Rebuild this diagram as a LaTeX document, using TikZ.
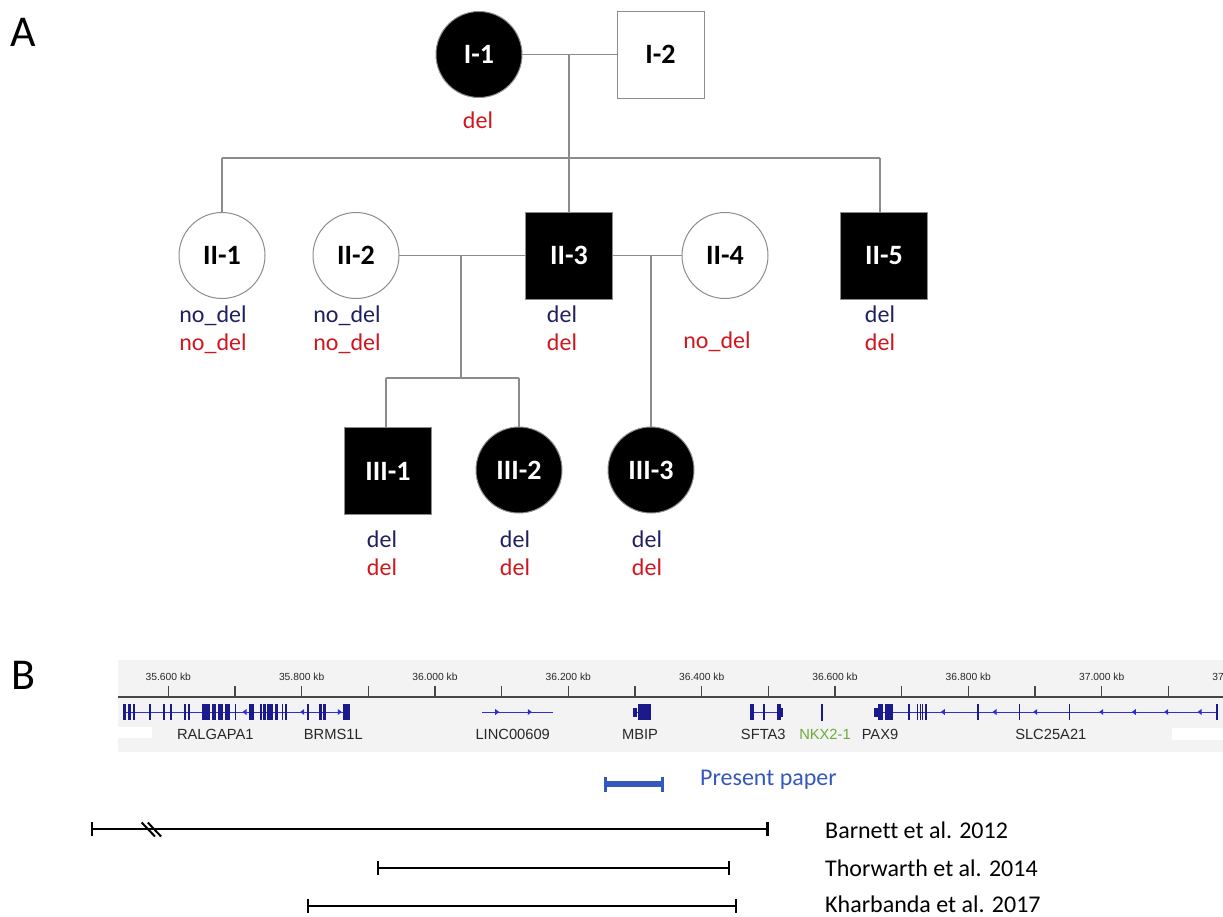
\documentclass[tikz,border=0pt]{standalone}
\usepackage{fontspec}
\setmainfont{Carlito}[Ligatures=NoCommon]
\newfontfamily\trackfont{Liberation Sans}
\usetikzlibrary{arrows.meta}

\definecolor{pedline}{RGB}{140,140,140}
\definecolor{navy}{RGB}{32,32,96}
\definecolor{delred}{RGB}{208,22,30}
\definecolor{panelbg}{RGB}{243,243,243}
\definecolor{rulerc}{RGB}{70,70,70}
\definecolor{exonc}{RGB}{26,26,140}
\definecolor{intronc}{RGB}{45,45,215}
\definecolor{genelbl}{RGB}{40,40,40}
\definecolor{nkxgreen}{RGB}{105,172,60}
\definecolor{presentblue}{RGB}{52,88,190}

\newcommand{\pedfont}{\fontsize{28}{30}\selectfont\bfseries}
\newcommand{\gtfont}{\fontsize{24}{26}\selectfont}
\newcommand{\panelfont}{\fontsize{44}{46}\selectfont}
\newcommand{\rulerfont}{\trackfont\fontsize{10.3}{12}\selectfont}
\newcommand{\genefont}{\trackfont\fontsize{14.7}{16}\selectfont}

% exon block, UTR block and strand chevrons on the gene track
\newcommand{\exon}[2]{\fill[exonc] (#1,704) rectangle (#2,720);}
\newcommand{\utr}[2]{\fill[exonc] (#1,707.5) rectangle (#2,716.5);}
\newcommand{\minusmark}[1]{\fill[intronc] (#1-2.5,712) -- (#1+1.5,709) -- (#1+1.5,715) -- cycle;}
\newcommand{\plusmark}[1]{\fill[intronc] (#1+2.5,712) -- (#1-1.5,709) -- (#1-1.5,715) -- cycle;}

\tikzset{
  female/.style={circle, draw=pedline, line width=1pt, minimum size=86pt,
    inner sep=0pt, outer sep=0pt, font=\pedfont},
  male/.style={rectangle, draw=pedline, line width=1pt, minimum size=87pt,
    inner sep=0pt, outer sep=0pt, font=\pedfont},
  affected/.style={fill=black, text=white},
  unaffected/.style={fill=white, text=black},
  ped/.style={draw=pedline, line width=1.2pt},
  gt/.style={font=\gtfont, anchor=base, inner sep=0pt},
  gtnavy/.style={gt, text=navy},
  gtred/.style={gt, text=delred},
  panellbl/.style={font=\panelfont, inner sep=0pt},
  rulerlbl/.style={font=\rulerfont, text=genelbl, inner sep=0pt},
  genelbl/.style={font=\genefont, text=genelbl, inner sep=0pt},
  refbar/.style={line width=2.2pt, black, {Bar[width=14pt]}-{Bar[width=14pt]}},
  presentbar/.style={line width=5.5pt, presentblue,
    {Bar[width=15pt,line width=3pt]}-{Bar[width=15pt,line width=3pt]}},
  reflbl/.style={font=\gtfont, anchor=west, inner sep=0pt}
}

\begin{document}
\begin{tikzpicture}[x=1pt, y=-1pt]
\useasboundingbox (0,0) rectangle (1223,916);

% ---------------- panel A: pedigree ----------------
\node[panellbl] (labA) at (23.5,32.5) {A};

% generation I
\node[female, affected]   (I1) at (479,54.5) {I-1};
\node[male, unaffected]   (I2) at (660.5,54.5) {I-2};
\draw[ped] (I1) -- (I2);
\coordinate (m1) at (569,54.5);
\coordinate (s1) at (569,158);
\coordinate (s1L) at (222,158);
\coordinate (s1R) at (880,158);
\draw[ped] (m1) -- (s1);
\draw[ped] (s1L) -- (s1R);

% generation II
\node[female, unaffected] (II1) at (222,255.5) {II-1};
\node[female, unaffected] (II2) at (356,255.5) {II-2};
\node[male, affected]     (II3) at (569,255.5) {II-3};
\node[female, unaffected] (II4) at (725,255.5) {II-4};
\node[male, affected]     (II5) at (884,255.5) {II-5};
\draw[ped] (s1L) -- (II1);
\draw[ped] (s1) -- (II3);
\draw[ped] (s1R) -- (s1R |- II5.north);

\draw[ped] (II2) -- (II3);
\draw[ped] (II3) -- (II4);
\coordinate (m2) at (461,255.5);
\coordinate (s2) at (461,378);
\coordinate (s2L) at (386,378);
\coordinate (s2R) at (519,378);
\coordinate (m3) at (651,255.5);

% generation III
\node[male, affected]     (III1) at (388,471) {III-1};
\node[female, affected]   (III2) at (519,470) {III-2};
\node[female, affected]   (III3) at (651,470) {III-3};
\draw[ped] (m2) -- (s2);
\draw[ped] (s2L) -- (s2R);
\draw[ped] (s2L) -- (s2L |- III1.north);
\draw[ped] (s2R) -- (III2);
\draw[ped] (m3) -- (III3);

% genotype labels
\node[gtred]  (gI1)   at (478,128.5) {del};
\node[gtnavy] (gII1a) at (213,322.7) {no\_del};
\node[gtred]  (gII1b) at (213,350.7) {no\_del};
\node[gtnavy] (gII2a) at (347,322.7) {no\_del};
\node[gtred]  (gII2b) at (347,350.7) {no\_del};
\node[gtnavy] (gII3a) at (562,322.7) {del};
\node[gtred]  (gII3b) at (562,350.7) {del};
\node[gtred]  (gII4b) at (717,348) {no\_del};
\node[gtnavy] (gII5a) at (880,322.7) {del};
\node[gtred]  (gII5b) at (880,350.7) {del};
\node[gtnavy] (gIII1a) at (382,547) {del};
\node[gtred]  (gIII1b) at (382,575) {del};
\node[gtnavy] (gIII2a) at (515,547) {del};
\node[gtred]  (gIII2b) at (515,575) {del};
\node[gtnavy] (gIII3a) at (647,547) {del};
\node[gtred]  (gIII3b) at (647,575) {del};

% ---------------- panel B: genomic region ----------------
\node[panellbl] (labB) at (23.7,675) {B};

\begin{scope}
\clip (118,660) rectangle (1223,752);
\fill[panelbg] (118,660) rectangle (1223,752);
% ruler
\draw[rulerc, line width=1.3pt] (118,697) -- (1223,697);
\foreach \k in {0,...,15}
  {\draw[rulerc, line width=1.2pt] ({168.3+66.67*\k},686) -- ({168.3+66.67*\k},697);}
\foreach \k/\t in {0/35.600, 2/35.800, 4/36.000, 6/36.200, 8/36.400,
                   10/36.600, 12/36.800, 14/37.000, 16/37.200}
  {\node[rulerlbl] (tick\k) at ({168.3+66.67*\k},677) {\t\ kb};}

% intron lines
\draw[intronc, line width=1pt] (123.3,712) -- (350,712);
\draw[intronc, line width=1pt] (481.7,712) -- (553.3,712);
\draw[intronc, line width=1pt] (632.7,712) -- (650,712);
\draw[intronc, line width=1pt] (750,712) -- (783.3,712);
\draw[intronc, line width=1pt] (874,712) -- (1217.7,712);

% RALGAPA1 and BRMS1L
\foreach \a/\b in {123.3/126, 128.3/130.7, 132.7/134.7, 149.3/151.3, 163.3/165,
  170/172, 184/186, 188.3/190, 202.3/210, 211.7/216, 217.7/222.7, 225/230,
  235/236.2, 249.3/254, 260/261.7, 263.3/266, 267.3/273.3, 275/277.7,
  281.7/283.3, 285/286.7, 307.3/309, 319.3/321.7, 323.3/326, 343.3/350}
  {\exon{\a}{\b}}
\minusmark{245}
\minusmark{302.7}
\plusmark{339.3}

% LINC00609
\plusmark{496.7}
\plusmark{529.3}

% MBIP
\utr{632.7}{637.3}
\exon{638.3}{650.5}

% SFTA3
\exon{750}{754}
\exon{763.3}{764.8}
\exon{776.7}{781}
\utr{781}{783.3}

% NKX2-1
\fill[exonc] (820.7,703.5) rectangle (822.9,721);

% PAX9 and SLC25A21
\utr{874}{878.3}
\exon{878.3}{883.3}
\exon{885}{892.5}
\exon{907.7}{910}
\exon{916.7}{918.3}
\exon{919.6}{920.8}
\exon{922}{923.3}
\exon{924.6}{926.7}
\foreach \a/\b in {976.6/978.6, 1018.6/1020.2, 1068.6/1070.2, 1216/1218}
  {\exon{\a}{\b}}
\foreach \x in {943.3, 995, 1035.7, 1101.7, 1134.3, 1166.7, 1200}
  {\minusmark{\x}}

% gene names
\node[genelbl] (gRAL)  at (215.3,734.3) {RALGAPA1};
\node[genelbl] (gBRM)  at (333.3,734.3) {BRMS1L};
\node[genelbl] (gLINC) at (512.7,734.3) {LINC00609};
\node[genelbl] (gMBIP) at (640,734.3) {MBIP};
\node[genelbl] (gSFT)  at (763.3,734.3) {SFTA3};
\node[genelbl, text=nkxgreen] (gNKX) at (825,734.3) {NKX2-1};
\node[genelbl] (gPAX)  at (880,734.3) {PAX9};
\node[genelbl] (gSLC)  at (1050.8,734.3) {SLC25A21};
\fill[white] (118,726.7) rectangle (151.7,738.3);
\fill[white] (1171.7,728.3) rectangle (1223,740);
\end{scope}

% deletion extents
\coordinate (pp1) at (604,784);
\coordinate (pp2) at (664,784);
\draw[presentbar] (pp1) -- (pp2);
\node[reflbl, text=presentblue] (lblP) at (700,780) {Present paper};

\coordinate (ba1) at (90.7,829.3);
\coordinate (ba2) at (768.5,829.3);
\draw[refbar] (ba1) -- (ba2);
\draw[line width=2pt] (141.7,822.5) -- (155,836.5);
\draw[line width=2pt] (147.8,822.5) -- (161.1,836.5);
\node[reflbl] (lblBa) at (825,830) {Barnett et al. 2012};

\coordinate (th1) at (376.7,868.3);
\coordinate (th2) at (729.9,868.3);
\draw[refbar] (th1) -- (th2);
\node[reflbl] (lblTh) at (825,868) {Thorwarth et al. 2014};

\coordinate (kh1) at (306.7,906);
\coordinate (kh2) at (737.3,906);
\draw[refbar] (kh1) -- (kh2);
\node[reflbl] (lblKh) at (825,904.5) {Kharbanda et al. 2017};
\end{tikzpicture}
\end{document}
